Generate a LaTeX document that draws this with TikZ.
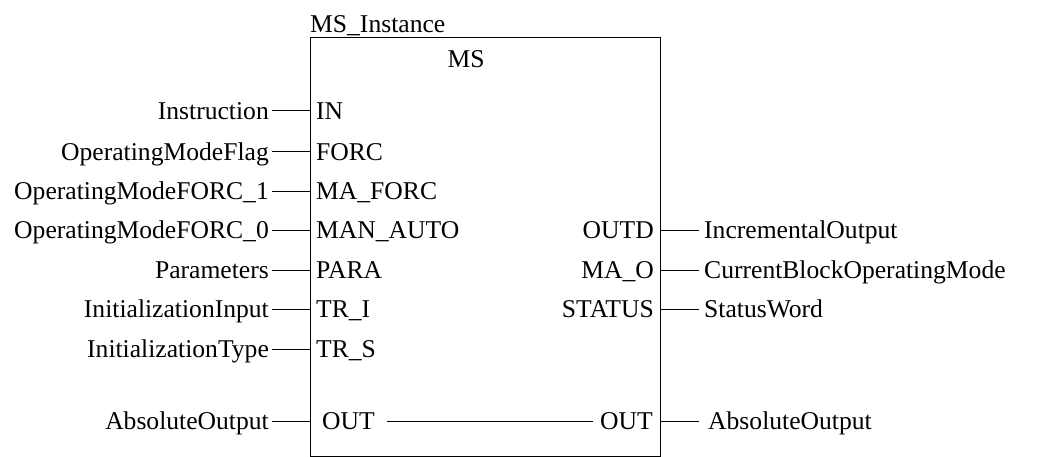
\documentclass[tikz,border=0pt]{standalone}
\usepackage{fontspec}
\setmainfont{Liberation Serif}
\begin{document}
\begin{tikzpicture}[x=1pt,y=-1pt,
  lbl/.style={inner ysep=0pt, inner xsep=3pt, text height=17pt, text depth=0pt,
    font=\fontsize{25.6pt}{28pt}\selectfont},
  pinL/.style={lbl, anchor=west, inner xsep=6pt},
  pinR/.style={lbl, anchor=east, inner xsep=6pt},
  inL/.style={lbl, anchor=east, inner xsep=3pt},
  outR/.style={lbl, anchor=west, inner xsep=5pt},
  wire/.style={line width=1pt, black},
  blockbox/.style={draw, line width=1pt, minimum width=350pt, minimum height=418pt, inner sep=0pt, outer sep=0pt}]
\useasboundingbox (0,0) rectangle (1051,457);
\node[blockbox, anchor=north west] (box) at (310,38) {};
\node[lbl, anchor=west, inner xsep=0pt] (inst) at (310,24) {MS\_Instance};
\node[lbl, inner xsep=0pt] (ms) at (466,59) {MS};
% inputs
\node[inL] (l1) at (272,111) {Instruction};
\node[inL] (l2) at (272,152) {OperatingModeFlag};
\node[inL] (l3) at (272,191) {OperatingModeFORC\_1};
\node[inL] (l4) at (272,230) {OperatingModeFORC\_0};
\node[inL] (l5) at (272,270) {Parameters};
\node[inL] (l6) at (272,309) {InitializationInput};
\node[inL] (l7) at (272,349) {InitializationType};
\node[inL] (l8) at (272,421) {AbsoluteOutput};
\node[pinL] (p1) at (310,111) {IN};
\node[pinL] (p2) at (310,152) {FORC};
\node[pinL] (p3) at (310,191) {MA\_FORC};
\node[pinL] (p4) at (310,230) {MAN\_AUTO};
\node[pinL] (p5) at (310,270) {PARA};
\node[pinL] (p6) at (310,309) {TR\_I};
\node[pinL] (p7) at (310,349) {TR\_S};
\node[pinL, inner xsep=12pt] (p8) at (310,421) {OUT};
\foreach \i in {1,...,8} {\draw[wire] (l\i.east) -- (p\i.west);}
% outputs
\node[pinR] (q1) at (660,230) {OUTD};
\node[pinR] (q2) at (660,270) {MA\_O};
\node[pinR] (q3) at (660,309) {STATUS};
\node[pinR, inner xsep=7pt] (q4) at (660,421) {OUT};
\node[outR] (r1) at (699,230) {IncrementalOutput};
\node[outR] (r2) at (699,270) {CurrentBlockOperatingMode};
\node[outR] (r3) at (699,309) {StatusWord};
\node[outR, inner xsep=9pt] (r4) at (699,421) {AbsoluteOutput};
\foreach \i in {1,...,4} {\draw[wire] (q\i.east) -- (r\i.west);}
\draw[wire] (p8.east) -- (q4.west);
\end{tikzpicture}
\end{document}
